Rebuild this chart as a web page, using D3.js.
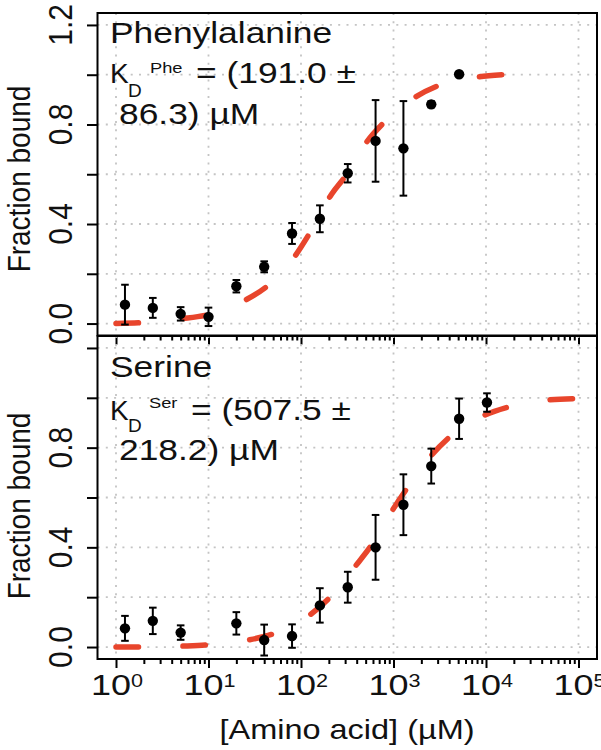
<!DOCTYPE html>
<html>
<head>
<meta charset="utf-8">
<script src="https://cdn.jsdelivr.net/npm/d3@7"></script>
<style>
  body { margin: 0; background: #fff; }
  text { font-family: "Liberation Sans", Arial, Helvetica, sans-serif; fill: #111; }
</style>
</head>
<body>
<script>
// ---------- data ----------
const pheConc = [1.25, 2.5, 5, 10, 20, 40, 80, 160, 320, 640, 1280, 2560, 5120];
const pheFrac = [0.076, 0.063, 0.039, 0.027, 0.150, 0.228, 0.362, 0.421, 0.604, 0.734, 0.704, 0.881, 1.002];
const pheErr  = [0.080, 0.040, 0.027, 0.037, 0.025, 0.022, 0.042, 0.054, 0.037, 0.164, 0.190, 0.012, 0];

const serConc = [1.25, 2.5, 5, 20, 40, 80, 160, 320, 640, 1280, 2560, 5120, 10240];
const serFrac = [0.075, 0.105, 0.058, 0.095, 0.028, 0.044, 0.167, 0.240, 0.400, 0.571, 0.726, 0.916, 0.981];
const serErr  = [0.050, 0.053, 0.029, 0.045, 0.062, 0.047, 0.069, 0.062, 0.130, 0.122, 0.070, 0.081, 0.037];

const pheFitX = [1, 2, 5, 10, 25, 44, 86, 125, 214, 306, 500, 789, 1640, 3050, 7940, 15000];
const pheFitY = [0.0, 0.004, 0.019, 0.036, 0.094, 0.153, 0.271, 0.365, 0.52, 0.595, 0.724, 0.808, 0.905, 0.956, 0.99, 1.0];

const serFitX = [1, 2, 5.3, 10, 27, 52, 125, 206, 384, 581, 955, 1390, 2525, 4080, 9210, 17400, 45300, 100000];
const serFitY = [0, 0, 0.004, 0.009, 0.028, 0.055, 0.129, 0.2, 0.323, 0.41, 0.544, 0.635, 0.766, 0.844, 0.927, 0.963, 0.991, 0.997];

const yTicks = [0, 0.2, 0.4, 0.6, 0.8, 1.0, 1.2];
const topYLabels = [0, 0.4, 0.8, 1.2];
const botYLabels = [0, 0.4, 0.8];
const xMajor = [0, 1, 2, 3, 4, 5];          // exponents of 10
const yLabelText = "Fraction bound";
const xLabelText = "[Amino acid] (\u00B5M)";

// ---------- layout ----------
const svg = d3.select("body").append("svg").attr("width", 601).attr("height", 750);
const L = 97.5, R = 597;
const x = d3.scaleLog().domain([Math.pow(10, -0.2), Math.pow(10, 5.2)]).range([L, R]);
const panels = [
  { y: d3.scaleLinear().domain([-0.048, 1.248]).range([335.5, 13]), conc: pheConc, frac: pheFrac, err: pheErr,
    fx: pheFitX, fy: pheFitY, labels: topYLabels, ylabY: 179 },
  { y: d3.scaleLinear().domain([-0.048, 1.248]).range([659, 336]), conc: serConc, frac: serFrac, err: serErr,
    fx: serFitX, fy: serFitY, labels: botYLabels, ylabY: 506 }
];

const xMinor = [];
for (let e = 0; e < 5; e++) for (let m = 2; m <= 9; m++) xMinor.push(m * Math.pow(10, e));

function txt(g, px, py, s, size, sx, anchor, rot) {
  return g.append("text")
    .attr("transform", `translate(${px},${py}) scale(${sx},1)` + (rot ? ` rotate(${rot})` : ""))
    .attr("text-anchor", anchor || "start")
    .style("font-size", size + "px")
    .text(s);
}

const red = "#e8452c";

panels.forEach((p, i) => {
  const g = svg.append("g");
  const [yb, yt] = p.y.range();
  // grid
  const grid = g.append("g").attr("stroke", "#c4c4c4").attr("stroke-width", 1.8).attr("stroke-dasharray", "2,6.3");
  grid.selectAll("line.v").data(xMajor).join("line")
    .attr("x1", d => x(Math.pow(10, d))).attr("x2", d => x(Math.pow(10, d)))
    .attr("y1", yt).attr("y2", yb);
  grid.selectAll("line.h").data(yTicks).join("line")
    .attr("x1", L).attr("x2", R).attr("y1", d => p.y(d)).attr("y2", d => p.y(d));

  // fit curve
  const fit = p.fx.map((v, k) => [v, p.fy[k]]);
  const line = d3.line().x(d => x(d[0])).y(d => p.y(d[1])).curve(d3.curveMonotoneX);
  g.append("path").datum(fit).attr("d", line)
    .attr("fill", "none").attr("stroke", red).attr("stroke-width", 5.5)
    .attr("stroke-linecap", "round").attr("stroke-dasharray", "22.5,44.5");

  // error bars
  const pts = p.conc.map((c, k) => ({ c, f: p.frac[k], e: p.err[k] }));
  const eb = g.append("g").attr("stroke", "#000").attr("stroke-width", 2);
  pts.filter(d => d.e > 0).forEach(d => {
    const cx = x(d.c);
    eb.append("line").attr("x1", cx).attr("x2", cx).attr("y1", p.y(d.f - d.e)).attr("y2", p.y(d.f + d.e));
    eb.append("line").attr("x1", cx - 3.8).attr("x2", cx + 3.8).attr("y1", p.y(d.f - d.e)).attr("y2", p.y(d.f - d.e));
    eb.append("line").attr("x1", cx - 3.8).attr("x2", cx + 3.8).attr("y1", p.y(d.f + d.e)).attr("y2", p.y(d.f + d.e));
  });
  g.selectAll("circle").data(pts).join("circle")
    .attr("cx", d => x(d.c)).attr("cy", d => p.y(d.f)).attr("r", 5.2).attr("fill", "#000");

  // box
  g.append("rect").attr("x", L).attr("y", yt).attr("width", R - L).attr("height", yb - yt)
    .attr("fill", "none").attr("stroke", "#000").attr("stroke-width", 2);

  // y axis
  const ya = g.append("g").attr("transform", `translate(${L},0)`)
    .call(d3.axisLeft(p.y).tickValues(yTicks).tickSize(10.5).tickSizeOuter(0).tickFormat(""));
  ya.select(".domain").remove();
  ya.selectAll("line").attr("stroke-width", 2);
  p.labels.forEach(v => txt(g, 72, p.y(v), v.toFixed(1), 30, 1.08, "middle", -90));
  txt(g, 30, p.ylabY, yLabelText, 28, 1.12, "middle", -90);

  // x axis ticks
  const xa1 = g.append("g").attr("transform", `translate(0,${yb})`)
    .call(d3.axisBottom(x).tickValues(xMajor.map(e => Math.pow(10, e))).tickSize(9).tickSizeOuter(0).tickFormat(""));
  xa1.select(".domain").remove();
  const xa2 = g.append("g").attr("transform", `translate(0,${yb})`)
    .call(d3.axisBottom(x).tickValues(xMinor).tickSize(5).tickSizeOuter(0).tickFormat(""));
  xa2.select(".domain").remove();
  g.selectAll(".tick line").attr("stroke-width", 2);
});

// x tick labels (bottom panel)
xMajor.forEach(e => {
  const t = svg.append("text")
    .attr("transform", `translate(${x(Math.pow(10, e)) + 1},695) scale(1.2,1)`)
    .attr("text-anchor", "middle").style("font-size", "30px");
  t.append("tspan").text("10");
  t.append("tspan").attr("dy", -8).style("font-size", "18px").text(String(e));
});
txt(svg, 347, 739, xLabelText, 28, 1.16, "middle");

// annotations
const SX = 1.22;
txt(svg, 110, 43, "Phenylalanine", 29, SX);
txt(svg, 110, 83, "K", 28, 1.0);
txt(svg, 128, 97, "D", 19, 1.0);
txt(svg, 150, 73, "Phe", 15, SX);
txt(svg, 196, 83, "= (191.0 \u00B1", 29, SX);
txt(svg, 119, 124, "86.3) \u00B5M", 29, SX);

txt(svg, 110, 377, "Serine", 29, SX);
txt(svg, 110, 420, "K", 28, 1.0);
txt(svg, 128, 432, "D", 19, 1.0);
txt(svg, 149, 408, "Ser", 15, SX);
txt(svg, 191, 420, "= (507.5 \u00B1", 29, SX);
txt(svg, 119, 460, "218.2) \u00B5M", 29, SX);
</script>
</body>
</html>
